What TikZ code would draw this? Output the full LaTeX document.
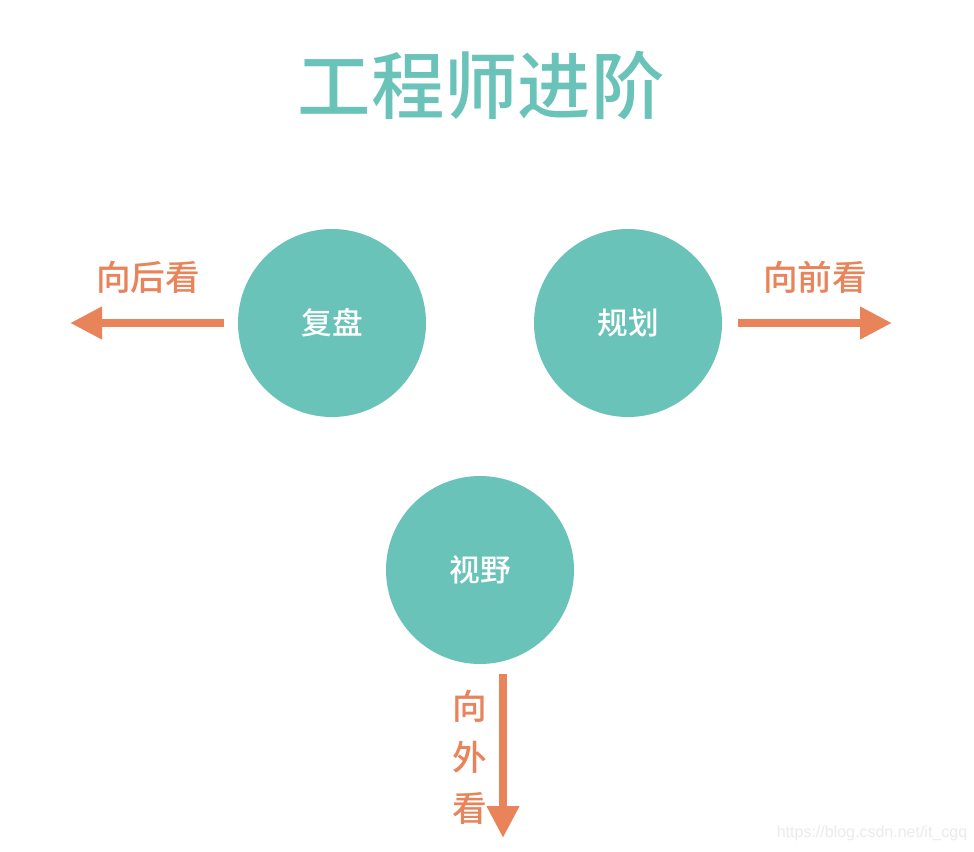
\documentclass[tikz,border=0pt]{standalone}
\usepackage{fontspec}
\newfontfamily\cjk{Noto Sans CJK SC}[UprightFont={* Medium}]
\setsansfont{Liberation Sans}
\usetikzlibrary{arrows.meta}
\definecolor{teal1}{RGB}{106,195,185}
\definecolor{orange1}{RGB}{233,131,89}
\tikzset{
  circ/.style={circle, fill=teal1, minimum size=141pt, inner sep=0pt, text=white, font=\cjk\fontsize{23}{23}\selectfont},
  lab/.style={text=orange1, font=\cjk\fontsize{26}{26}\selectfont, inner sep=0pt},
  arr/.style={draw=orange1, line width=6pt, -{Triangle[length=24pt,width=23pt]}},
}
\begin{document}
\begin{tikzpicture}[x=0.75pt,y=-0.75pt]
\useasboundingbox[fill=white] (0,0) rectangle (974,852);
\node[text=teal1, font=\cjk\fontsize{55}{55}\selectfont, inner sep=0pt] (title) at (481,86) {工程师进阶};
\node[circ] (fupan) at (332,323) {复盘};
\node[circ] (guihua) at (628,323) {规划};
\node[circ] (shiye) at (480,570) {视野};
\coordinate (la) at (224,323);
\coordinate (lb) at (70,323);
\coordinate (ra) at (738,323);
\coordinate (rb) at (892,323);
\coordinate (da) at (503,674);
\coordinate (db) at (503,838);
\draw[arr] (la) -- (lb);
\draw[arr] (ra) -- (rb);
\draw[arr] (da) -- (db);
\node[lab] (hou) at (148,277) {向后看};
\node[lab] (qian) at (815,277) {向前看};
\node[lab] (x1) at (470,706) {向};
\node[lab] (x2) at (470,757) {外};
\node[lab] (x3) at (470,808) {看};
\node[text=black!8, font=\sffamily\fontsize{12}{12}\selectfont, inner sep=0pt] (wm) at (872,833) {https://blog.csdn.net/it\_cgq};
\end{tikzpicture}
\end{document}
